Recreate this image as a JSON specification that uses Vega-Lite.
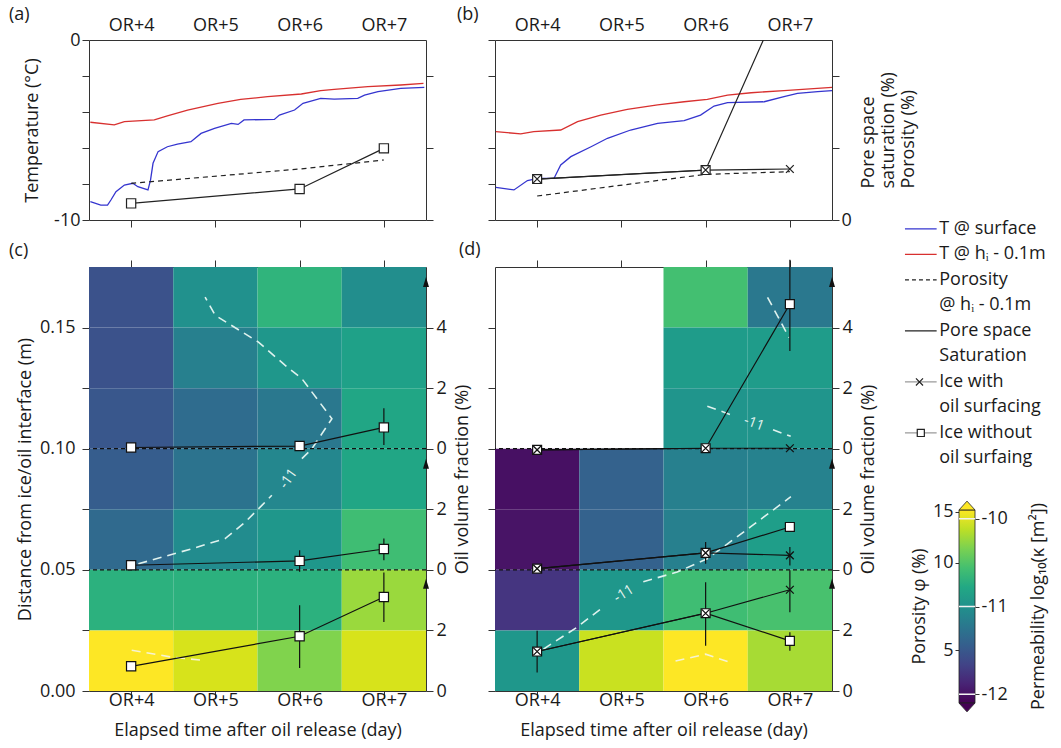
{
 "$schema": "https://vega.github.io/schema/vega-lite/v6.json",
 "padding": {"left": 8, "top": 5, "right": 2, "bottom": 2},
 "background": "white",
 "config": {
  "font": "Open Sans",
  "view": {"stroke": "#333", "strokeWidth": 1},
  "axis": {"grid": false, "domain": false, "labelFontSize": 18, "titleFontSize": 18, "titleFontWeight": "normal", "labelColor": "#1a1a1a", "titleColor": "#1a1a1a", "tickColor": "#333", "tickSize": 7, "labelFont": "Open Sans", "titleFont": "Open Sans"},
  "title": {"fontSize": 18, "fontWeight": "normal", "font": "Open Sans", "color": "#1a1a1a"}
 },
 "datasets": {
  "tempA": [
   {"day":3.516,"T":-8.98,"s":"surface"},{"day":3.64,"T":-9.17,"s":"surface"},{"day":3.72,"T":-9.17,"s":"surface"},{"day":3.76,"T":-8.89,"s":"surface"},{"day":3.82,"T":-8.43,"s":"surface"},{"day":3.92,"T":-8.06,"s":"surface"},{"day":4.02,"T":-7.96,"s":"surface"},{"day":4.08,"T":-8.15,"s":"surface"},{"day":4.2,"T":-8.33,"s":"surface"},{"day":4.23,"T":-7.78,"s":"surface"},{"day":4.26,"T":-6.85,"s":"surface"},{"day":4.32,"T":-6.2,"s":"surface"},{"day":4.43,"T":-5.93,"s":"surface"},{"day":4.55,"T":-5.78,"s":"surface"},{"day":4.71,"T":-5.65,"s":"surface"},{"day":4.83,"T":-5.19,"s":"surface"},{"day":4.99,"T":-4.91,"s":"surface"},{"day":5.19,"T":-4.63,"s":"surface"},{"day":5.27,"T":-4.69,"s":"surface"},{"day":5.34,"T":-4.44,"s":"surface"},{"day":5.7,"T":-4.41,"s":"surface"},{"day":5.76,"T":-4.17,"s":"surface"},{"day":5.94,"T":-3.89,"s":"surface"},{"day":6.04,"T":-3.52,"s":"surface"},{"day":6.25,"T":-3.24,"s":"surface"},{"day":6.41,"T":-3.28,"s":"surface"},{"day":6.69,"T":-3.24,"s":"surface"},{"day":6.77,"T":-3.06,"s":"surface"},{"day":6.93,"T":-2.87,"s":"surface"},{"day":7.2,"T":-2.69,"s":"surface"},{"day":7.48,"T":-2.63,"s":"surface"},
   {"day":3.516,"T":-4.57,"s":"hi"},{"day":3.8,"T":-4.72,"s":"hi"},{"day":3.92,"T":-4.54,"s":"hi"},{"day":4.275,"T":-4.44,"s":"hi"},{"day":4.43,"T":-4.22,"s":"hi"},{"day":4.67,"T":-3.89,"s":"hi"},{"day":5.03,"T":-3.52,"s":"hi"},{"day":5.3,"T":-3.3,"s":"hi"},{"day":5.62,"T":-3.15,"s":"hi"},{"day":6.02,"T":-3.0,"s":"hi"},{"day":6.25,"T":-2.81,"s":"hi"},{"day":6.41,"T":-2.74,"s":"hi"},{"day":6.81,"T":-2.59,"s":"hi"},{"day":7.2,"T":-2.5,"s":"hi"},{"day":7.47,"T":-2.41,"s":"hi"}
  ],
  "tempB": [
   {"day":3.51,"T":-8.19,"s":"surface"},{"day":3.725,"T":-8.33,"s":"surface"},{"day":3.885,"T":-7.81,"s":"surface"},{"day":4.01,"T":-7.69,"s":"surface"},{"day":4.2,"T":-7.69,"s":"surface"},{"day":4.28,"T":-6.94,"s":"surface"},{"day":4.4,"T":-6.48,"s":"surface"},{"day":4.64,"T":-5.93,"s":"surface"},{"day":4.835,"T":-5.46,"s":"surface"},{"day":5.11,"T":-5.0,"s":"surface"},{"day":5.43,"T":-4.63,"s":"surface"},{"day":5.745,"T":-4.48,"s":"surface"},{"day":5.94,"T":-4.17,"s":"surface"},{"day":6.1,"T":-3.67,"s":"surface"},{"day":6.26,"T":-3.48,"s":"surface"},{"day":6.695,"T":-3.43,"s":"surface"},{"day":6.93,"T":-3.15,"s":"surface"},{"day":7.09,"T":-2.96,"s":"surface"},{"day":7.33,"T":-2.87,"s":"surface"},{"day":7.5,"T":-2.81,"s":"surface"},
   {"day":3.51,"T":-5.09,"s":"hi"},{"day":3.805,"T":-5.22,"s":"hi"},{"day":3.96,"T":-5.09,"s":"hi"},{"day":4.28,"T":-5.0,"s":"hi"},{"day":4.48,"T":-4.54,"s":"hi"},{"day":4.755,"T":-4.17,"s":"hi"},{"day":5.07,"T":-3.85,"s":"hi"},{"day":5.43,"T":-3.61,"s":"hi"},{"day":5.745,"T":-3.43,"s":"hi"},{"day":6.02,"T":-3.3,"s":"hi"},{"day":6.26,"T":-3.06,"s":"hi"},{"day":6.54,"T":-2.93,"s":"hi"},{"day":6.93,"T":-2.81,"s":"hi"},{"day":7.5,"T":-2.63,"s":"hi"}
  ],
  "poroA": [{"day":4,"v":5.09},{"day":6,"v":7.08},{"day":7,"v":8.33}],
  "satA": [{"day":4,"v":2.31},{"day":6,"v":4.31},{"day":7,"v":9.95}],
  "poroB": [{"day":4,"v":3.33},{"day":6,"v":6.34},{"day":7,"v":6.71}],
  "satB": [{"day":4,"v":5.69,"s":"with"},{"day":6,"v":6.94,"s":"with"},{"day":7,"v":7.08,"s":"with"},{"day":4,"v":5.69,"s":"without"},{"day":6,"v":6.94,"s":"without"},{"day":7,"v":33.3,"s":"without"}],
  "cellsC": [
   {"x0":3.5,"x1":4.5,"ylo":0.15,"yhi":0.175,"logk":-11.55},{"x0":3.5,"x1":4.5,"ylo":0.125,"yhi":0.15,"logk":-11.55},{"x0":3.5,"x1":4.5,"ylo":0.1,"yhi":0.125,"logk":-11.506},{"x0":3.5,"x1":4.5,"ylo":0.075,"yhi":0.1,"logk":-11.462},{"x0":3.5,"x1":4.5,"ylo":0.05,"yhi":0.075,"logk":-11.352},{"x0":3.5,"x1":4.5,"ylo":0.025,"yhi":0.05,"logk":-10.692},{"x0":3.5,"x1":4.5,"ylo":0,"yhi":0.025,"logk":-9.9},
   {"x0":4.5,"x1":5.5,"ylo":0.15,"yhi":0.175,"logk":-11.0},{"x0":4.5,"x1":5.5,"ylo":0.125,"yhi":0.15,"logk":-11.154},{"x0":4.5,"x1":5.5,"ylo":0.1,"yhi":0.125,"logk":-11.33},{"x0":4.5,"x1":5.5,"ylo":0.075,"yhi":0.1,"logk":-11.264},{"x0":4.5,"x1":5.5,"ylo":0.05,"yhi":0.075,"logk":-11.044},{"x0":4.5,"x1":5.5,"ylo":0.025,"yhi":0.05,"logk":-10.692},{"x0":4.5,"x1":5.5,"ylo":0,"yhi":0.025,"logk":-10.032},
   {"x0":5.5,"x1":6.5,"ylo":0.15,"yhi":0.175,"logk":-10.67},{"x0":5.5,"x1":6.5,"ylo":0.125,"yhi":0.15,"logk":-10.934},{"x0":5.5,"x1":6.5,"ylo":0.1,"yhi":0.125,"logk":-11.22},{"x0":5.5,"x1":6.5,"ylo":0.075,"yhi":0.1,"logk":-11.088},{"x0":5.5,"x1":6.5,"ylo":0.05,"yhi":0.075,"logk":-10.934},{"x0":5.5,"x1":6.5,"ylo":0.025,"yhi":0.05,"logk":-10.692},{"x0":5.5,"x1":6.5,"ylo":0,"yhi":0.025,"logk":-10.318},
   {"x0":6.5,"x1":7.5,"ylo":0.15,"yhi":0.175,"logk":-11.022},{"x0":6.5,"x1":7.5,"ylo":0.125,"yhi":0.15,"logk":-10.846},{"x0":6.5,"x1":7.5,"ylo":0.1,"yhi":0.125,"logk":-10.802},{"x0":6.5,"x1":7.5,"ylo":0.075,"yhi":0.1,"logk":-10.802},{"x0":6.5,"x1":7.5,"ylo":0.05,"yhi":0.075,"logk":-10.582},{"x0":6.5,"x1":7.5,"ylo":0.025,"yhi":0.05,"logk":-10.23},{"x0":6.5,"x1":7.5,"ylo":0,"yhi":0.025,"logk":-10.032}
  ],
  "cellsD": [
   {"x0":3.5,"x1":4.5,"ylo":0.075,"yhi":0.1,"logk":-12.012},{"x0":3.5,"x1":4.5,"ylo":0.05,"yhi":0.075,"logk":-11.99},{"x0":3.5,"x1":4.5,"ylo":0.025,"yhi":0.05,"logk":-11.77},{"x0":3.5,"x1":4.5,"ylo":0,"yhi":0.025,"logk":-10.934},
   {"x0":4.5,"x1":5.5,"ylo":0.075,"yhi":0.1,"logk":-11.418},{"x0":4.5,"x1":5.5,"ylo":0.05,"yhi":0.075,"logk":-11.418},{"x0":4.5,"x1":5.5,"ylo":0.025,"yhi":0.05,"logk":-10.934},{"x0":4.5,"x1":5.5,"ylo":0,"yhi":0.025,"logk":-10.076},
   {"x0":5.5,"x1":6.5,"ylo":0.15,"yhi":0.175,"logk":-10.56},{"x0":5.5,"x1":6.5,"ylo":0.125,"yhi":0.15,"logk":-10.89},{"x0":5.5,"x1":6.5,"ylo":0.1,"yhi":0.125,"logk":-10.956},{"x0":5.5,"x1":6.5,"ylo":0.075,"yhi":0.1,"logk":-11.154},{"x0":5.5,"x1":6.5,"ylo":0.05,"yhi":0.075,"logk":-11.154},{"x0":5.5,"x1":6.5,"ylo":0.025,"yhi":0.05,"logk":-10.582},{"x0":5.5,"x1":6.5,"ylo":0,"yhi":0.025,"logk":-9.9},
   {"x0":6.5,"x1":7.5,"ylo":0.15,"yhi":0.175,"logk":-11.22},{"x0":6.5,"x1":7.5,"ylo":0.125,"yhi":0.15,"logk":-10.89},{"x0":6.5,"x1":7.5,"ylo":0.1,"yhi":0.125,"logk":-10.956},{"x0":6.5,"x1":7.5,"ylo":0.075,"yhi":0.1,"logk":-11.132},{"x0":6.5,"x1":7.5,"ylo":0.05,"yhi":0.075,"logk":-10.868},{"x0":6.5,"x1":7.5,"ylo":0.025,"yhi":0.05,"logk":-10.538},{"x0":6.5,"x1":7.5,"ylo":0,"yhi":0.025,"logk":-10.186}
  ],
  "pointsC": [
   {"grp":"t","day":4,"y":0.1005},{"grp":"t","day":6,"y":0.1011},{"grp":"t","day":7,"y":0.1088,"elo":0.1015,"ehi":0.1167},
   {"grp":"m","day":4,"y":0.0519},{"grp":"m","day":6,"y":0.0537,"elo":0.0492,"ehi":0.0581},{"grp":"m","day":7,"y":0.0586,"elo":0.054,"ehi":0.0629},
   {"grp":"b","day":4,"y":0.0102},{"grp":"b","day":6,"y":0.0226,"elo":0.0095,"ehi":0.0354},{"grp":"b","day":7,"y":0.0388,"elo":0.0285,"ehi":0.0489}
  ],
  "pointsD": [
   {"ln":"tw","s":"w","day":4,"y":0.0995},{"ln":"tw","s":"w","day":6,"y":0.1002},{"ln":"tw","s":"w","day":7,"y":0.1002},
   {"ln":"mw","s":"w","day":4,"y":0.0505},{"ln":"mw","s":"w","day":6,"y":0.057,"elo":0.0525,"ehi":0.0615},{"ln":"mw","s":"w","day":7,"y":0.056,"elo":0.0518,"ehi":0.0594},
   {"ln":"bw","s":"w","day":4,"y":0.0163,"elo":0.0076,"ehi":0.0249},{"ln":"bw","s":"w","day":6,"y":0.0321,"elo":0.0187,"ehi":0.0449},{"ln":"bw","s":"w","day":7,"y":0.0418,"elo":0.0325,"ehi":0.0498},
   {"ln":"to","s":"o","day":4,"y":0.0995},{"ln":"to","s":"o","day":6,"y":0.1002},{"ln":"to","s":"o","day":7,"y":0.1597,"elo":0.1403,"ehi":0.178},
   {"ln":"mo","s":"o","day":4,"y":0.0505},{"ln":"mo","s":"o","day":6,"y":0.057},{"ln":"mo","s":"o","day":7,"y":0.0677},
   {"ln":"bo","s":"o","day":4,"y":0.0163},{"ln":"bo","s":"o","day":6,"y":0.0321},{"ln":"bo","s":"o","day":7,"y":0.0207,"elo":0.0166,"ehi":0.0242}
  ],
  "contC": [
   {"c":"a","lv":"m11","o":1,"day":4.086,"y":0.0525},{"c":"a","lv":"m11","o":2,"day":4.72,"y":0.0587},{"c":"a","lv":"m11","o":3,"day":5.116,"y":0.0629},{"c":"a","lv":"m11","o":4,"day":5.353,"y":0.0697},{"c":"a","lv":"m11","o":5,"day":5.552,"y":0.0766},{"c":"a","lv":"m11","o":6,"day":5.67,"y":0.0808},
   {"c":"b","lv":"m11","o":1,"day":6.027,"y":0.0959},{"c":"b","lv":"m11","o":2,"day":6.146,"y":0.1},{"c":"b","lv":"m11","o":3,"day":6.383,"y":0.1124},{"c":"b","lv":"m11","o":4,"day":6.027,"y":0.1289},{"c":"b","lv":"m11","o":5,"day":5.829,"y":0.1344},{"c":"b","lv":"m11","o":6,"day":5.511,"y":0.144},{"c":"b","lv":"m11","o":7,"day":4.997,"y":0.1551},{"c":"b","lv":"m11","o":8,"day":4.878,"y":0.1626},
   {"c":"c","lv":"m10","o":1,"day":4.007,"y":0.0168},{"c":"c","lv":"m10","o":2,"day":4.48,"y":0.014},{"c":"c","lv":"m10","o":3,"day":4.84,"y":0.0127}
  ],
  "contD": [
   {"c":"a","lv":"m11","o":1,"day":6.735,"y":0.1625},{"c":"a","lv":"m11","o":2,"day":6.99,"y":0.1459},
   {"c":"b1","lv":"m11","o":1,"day":6.02,"y":0.1175},{"c":"b1","lv":"m11","o":2,"day":6.35,"y":0.1134},
   {"c":"b2","lv":"m11","o":1,"day":6.8,"y":0.1078},{"c":"b2","lv":"m11","o":2,"day":7.01,"y":0.1051},
   {"c":"c1","lv":"m11","o":1,"day":4.075,"y":0.0173},{"c":"c1","lv":"m11","o":2,"day":4.473,"y":0.0263},{"c":"c1","lv":"m11","o":3,"day":4.8,"y":0.0351},
   {"c":"c2","lv":"m11","o":1,"day":5.26,"y":0.0451},{"c":"c2","lv":"m11","o":2,"day":5.663,"y":0.0491},{"c":"c2","lv":"m11","o":3,"day":6.02,"y":0.0546},{"c":"c2","lv":"m11","o":4,"day":6.536,"y":0.0678},{"c":"c2","lv":"m11","o":5,"day":7.012,"y":0.0802},
   {"c":"d","lv":"m10","o":1,"day":5.643,"y":0.0124},{"c":"d","lv":"m10","o":2,"day":6.0,"y":0.0152},{"c":"d","lv":"m10","o":3,"day":6.298,"y":0.0117}
  ],
  "labC": [{"day":5.868,"y":0.0876,"t":"-11"}],
  "labD1": [{"day":6.575,"y":0.1104,"t":"-11"}],
  "labD2": [{"day":5.03,"y":0.0401,"t":"-11"}],
  "hlines": [{"y":0.1},{"y":0.05}],
  "arrows": [{"y":0.1688},{"y":0.0938},{"y":0.0443}],
  "legText": [
   {"line":1,"text":"T @ surface"},{"line":2,"text":"T @ hᵢ - 0.1m"},{"line":3,"text":"Porosity"},{"line":4,"text":"  @ hᵢ - 0.1m"},{"line":5,"text":"Pore space"},{"line":6,"text":"Saturation"},{"line":7,"text":"Ice with"},{"line":8,"text":"  oil surfacing"},{"line":9,"text":"Ice without"},{"line":10,"text":"  oil surfaing"}
  ],
  "legSym": [{"line":1,"k":"blue"},{"line":2,"k":"red"},{"line":3,"k":"dash"},{"line":5,"k":"solid"},{"line":7,"k":"cross"},{"line":9,"k":"square"}],
  "cbar": [{"lo":-12.1,"hi":-9.9}],
  "cbarLevels": [{"v":-10},{"v":-11},{"v":-12}],
  "cbarTop": [{"v":-9.849}],
  "cbarBot": [{"v":-12.151}],
  "phiTicks": [{"phi":5},{"phi":10},{"phi":15}]
 },
 "columns": 3,
 "spacing": {"row": 47, "column": 69},
 "bounds": "flush",
 "concat": [
    {
     "width": 337, "height": 180,
     "title": {"text": "(a)", "anchor": "start", "frame": "group", "dx": -80, "dy": 12},
     "layer": [
      {
       "data": {"name": "tempA"},
       "mark": {"type": "line", "strokeWidth": 1.3},
       "encoding": {
        "x": {"field": "day", "type": "quantitative", "scale": {"domain": [3.5, 7.5], "nice": false}, "axis": {"orient": "bottom", "values": [4,5,6,7], "labels": false, "title": null}},
        "y": {"field": "T", "type": "quantitative", "scale": {"domain": [-10, 0], "nice": false}, "axis": {"orient": "left", "values": [-10,-8,-6,-4,-2,0], "labelExpr": "datum.value == 0 || datum.value == -10 ? '' + datum.value : ''", "labelPadding": 2, "title": "Temperature (°C)", "titlePadding": 12}},
        "stroke": {"field": "s", "type": "nominal", "scale": {"domain": ["surface", "hi"], "range": ["#3535cf", "#d8302f"]}, "legend": null}
       }
      },
      {
       "layer": [
        {"data": {"name": "poroA"}, "mark": {"type": "line", "color": "#222", "strokeWidth": 1.2, "strokeDash": [5,4]},
         "encoding": {"x": {"field": "day", "type": "quantitative", "scale": {"domain": [3.5, 7.5], "nice": false}, "axis": {"orient": "top", "values": [4,5,6,7], "labelExpr": "'OR+' + datum.value", "ticks": false, "tickSize": 0, "labelPadding": 6, "title": null}},
          "y": {"field": "v", "type": "quantitative", "scale": {"domain": [0, 25], "nice": false}, "axis": {"orient": "right", "values": [0,5,10,15,20,25], "labels": false, "title": null}}}},
        {"data": {"name": "satA"}, "mark": {"type": "line", "color": "#222", "strokeWidth": 1.2},
         "encoding": {"x": {"field": "day", "type": "quantitative", "scale": {"domain": [3.5, 7.5], "nice": false}}, "y": {"field": "v", "type": "quantitative", "scale": {"domain": [0, 25], "nice": false}}}},
        {"data": {"name": "satA"}, "mark": {"type": "point", "shape": "square", "filled": true, "fill": "white", "stroke": "#222", "strokeWidth": 1.2, "size": 85, "opacity": 1},
         "encoding": {"x": {"field": "day", "type": "quantitative", "scale": {"domain": [3.5, 7.5], "nice": false}}, "y": {"field": "v", "type": "quantitative", "scale": {"domain": [0, 25], "nice": false}}}}
       ]
      }
     ],
     "resolve": {"scale": {"y": "independent"}, "axis": {"x": "independent", "y": "independent"}}
    },
    {
     "width": 337, "height": 180,
     "title": {"text": "(b)", "anchor": "start", "frame": "group", "dx": -38, "dy": 12},
     "layer": [
      {
       "data": {"name": "tempB"},
       "mark": {"type": "line", "strokeWidth": 1.3},
       "encoding": {
        "x": {"field": "day", "type": "quantitative", "scale": {"domain": [3.5, 7.5], "nice": false}, "axis": {"orient": "bottom", "values": [4,5,6,7], "labels": false, "title": null}},
        "y": {"field": "T", "type": "quantitative", "scale": {"domain": [-10, 0], "nice": false}, "axis": {"orient": "left", "values": [-10,-8,-6,-4,-2,0], "labels": false, "title": null}},
        "stroke": {"field": "s", "type": "nominal", "scale": {"domain": ["surface", "hi"], "range": ["#3535cf", "#d8302f"]}, "legend": null}
       }
      },
      {
       "layer": [
        {"data": {"name": "poroB"}, "mark": {"type": "line", "color": "#222", "strokeWidth": 1.2, "strokeDash": [5,4]},
         "encoding": {"x": {"field": "day", "type": "quantitative", "scale": {"domain": [3.5, 7.5], "nice": false}, "axis": {"orient": "top", "values": [4,5,6,7], "labelExpr": "'OR+' + datum.value", "ticks": false, "tickSize": 0, "labelPadding": 6, "title": null}},
          "y": {"field": "v", "type": "quantitative", "scale": {"domain": [0, 25], "nice": false}, "axis": {"orient": "right", "values": [0,5,10,15,20,25], "labelExpr": "datum.value == 0 || datum.value == 25 ? '' + datum.value : ''", "labelPadding": 2, "title": ["Pore space", "saturation (%)", "Porosity (%)"], "titleAngle": 270, "titleBaseline": "top", "titleAlign": "left", "titleX": 27, "titleY": 148, "titleLineHeight": 20}}}},
        {"data": {"name": "satB"}, "mark": {"type": "line", "color": "#222", "strokeWidth": 1.2, "clip": true},
         "encoding": {"x": {"field": "day", "type": "quantitative", "scale": {"domain": [3.5, 7.5], "nice": false}}, "y": {"field": "v", "type": "quantitative", "scale": {"domain": [0, 25], "nice": false}}, "detail": {"field": "s"}}},
        {"data": {"name": "satB"}, "transform": [{"filter": "datum.s == 'without'"}], "mark": {"type": "point", "shape": "square", "filled": true, "fill": "white", "stroke": "#222", "strokeWidth": 1.2, "size": 80, "opacity": 1, "clip": true},
         "encoding": {"x": {"field": "day", "type": "quantitative", "scale": {"domain": [3.5, 7.5], "nice": false}}, "y": {"field": "v", "type": "quantitative", "scale": {"domain": [0, 25], "nice": false}}}},
        {"data": {"name": "satB"}, "transform": [{"filter": "datum.s == 'with'"}], "mark": {"type": "point", "shape": "M-1,-1L1,1M-1,1L1,-1", "filled": false, "stroke": "#222", "strokeWidth": 1.3, "size": 60, "opacity": 1},
         "encoding": {"x": {"field": "day", "type": "quantitative", "scale": {"domain": [3.5, 7.5], "nice": false}}, "y": {"field": "v", "type": "quantitative", "scale": {"domain": [0, 25], "nice": false}}}}
       ]
      }
     ],
     "resolve": {"scale": {"y": "independent"}, "axis": {"x": "independent", "y": "independent"}}
    },
    {
     "width": 132, "height": 180,
     "view": {"stroke": null},
     "layer": [
      {"data": {"name": "legSym"}, "transform": [{"filter": "datum.k == 'blue'"}], "mark": {"type": "rule", "color": "#3535cf", "strokeWidth": 1.3},
       "encoding": {"x": {"datum": 0.03, "type": "quantitative", "scale": {"domain": [0, 1], "nice": false}, "axis": null}, "x2": {"datum": 0.27}, "y": {"field": "line", "type": "quantitative", "scale": {"domain": [-6.41, 0.649], "reverse": true, "nice": false, "zero": false}, "axis": null}}},
      {"data": {"name": "legSym"}, "transform": [{"filter": "datum.k == 'red'"}], "mark": {"type": "rule", "color": "#d8302f", "strokeWidth": 1.3},
       "encoding": {"x": {"datum": 0.03, "type": "quantitative", "scale": {"domain": [0, 1], "nice": false}, "axis": null}, "x2": {"datum": 0.27}, "y": {"field": "line", "type": "quantitative", "scale": {"domain": [-6.41, 0.649], "reverse": true, "nice": false, "zero": false}, "axis": null}}},
      {"data": {"name": "legSym"}, "transform": [{"filter": "datum.k == 'dash'"}], "mark": {"type": "rule", "color": "#222", "strokeWidth": 1.2, "strokeDash": [4,3]},
       "encoding": {"x": {"datum": 0.03, "type": "quantitative", "scale": {"domain": [0, 1], "nice": false}, "axis": null}, "x2": {"datum": 0.27}, "y": {"field": "line", "type": "quantitative", "scale": {"domain": [-6.41, 0.649], "reverse": true, "nice": false, "zero": false}, "axis": null}}},
      {"data": {"name": "legSym"}, "transform": [{"filter": "datum.k == 'solid'"}], "mark": {"type": "rule", "color": "#222", "strokeWidth": 1.2},
       "encoding": {"x": {"datum": 0.03, "type": "quantitative", "scale": {"domain": [0, 1], "nice": false}, "axis": null}, "x2": {"datum": 0.27}, "y": {"field": "line", "type": "quantitative", "scale": {"domain": [-6.41, 0.649], "reverse": true, "nice": false, "zero": false}, "axis": null}}},
      {"data": {"name": "legSym"}, "transform": [{"filter": "datum.k == 'cross' || datum.k == 'square'"}], "mark": {"type": "rule", "color": "#9a9a9a", "strokeWidth": 1.2},
       "encoding": {"x": {"datum": 0.03, "type": "quantitative", "scale": {"domain": [0, 1], "nice": false}, "axis": null}, "x2": {"datum": 0.27}, "y": {"field": "line", "type": "quantitative", "scale": {"domain": [-6.41, 0.649], "reverse": true, "nice": false, "zero": false}, "axis": null}}},
      {"data": {"name": "legSym"}, "transform": [{"filter": "datum.k == 'cross'"}], "mark": {"type": "point", "shape": "M-1,-1L1,1M-1,1L1,-1", "filled": false, "stroke": "#222", "strokeWidth": 1.2, "size": 50, "opacity": 1},
       "encoding": {"x": {"datum": 0.14, "type": "quantitative", "scale": {"domain": [0, 1], "nice": false}, "axis": null}, "y": {"field": "line", "type": "quantitative", "scale": {"domain": [-6.41, 0.649], "reverse": true, "nice": false, "zero": false}, "axis": null}}},
      {"data": {"name": "legSym"}, "transform": [{"filter": "datum.k == 'square'"}], "mark": {"type": "point", "shape": "square", "filled": true, "fill": "white", "stroke": "#222", "strokeWidth": 1.2, "size": 50, "opacity": 1},
       "encoding": {"x": {"datum": 0.15, "type": "quantitative", "scale": {"domain": [0, 1], "nice": false}, "axis": null}, "y": {"field": "line", "type": "quantitative", "scale": {"domain": [-6.41, 0.649], "reverse": true, "nice": false, "zero": false}, "axis": null}}},
      {"data": {"name": "legText"}, "mark": {"type": "text", "align": "left", "baseline": "middle", "fontSize": 18, "color": "#1a1a1a"},
       "encoding": {"x": {"datum": 0.29, "type": "quantitative", "scale": {"domain": [0, 1], "nice": false}, "axis": null}, "y": {"field": "line", "type": "quantitative", "scale": {"domain": [-6.41, 0.649], "reverse": true, "nice": false, "zero": false}, "axis": null}, "text": {"field": "text"}}}
     ]
    },
    {
     "width": 337, "height": 424,
     "title": {"text": "(c)", "anchor": "start", "frame": "group", "dx": -80, "dy": 4},
     "layer": [
      {"data": {"name": "cellsC"}, "mark": {"type": "rect"},
       "encoding": {
        "x": {"field": "x0", "type": "quantitative", "scale": {"domain": [3.5, 7.5], "nice": false}, "axis": {"orient": "bottom", "values": [4,5,6,7], "labelExpr": "'OR+' + datum.value", "labelBaseline": "alphabetic", "labelPadding": 7, "title": "Elapsed time after oil release (day)", "titlePadding": 12}},
        "x2": {"field": "x1"},
        "y": {"field": "ylo", "type": "quantitative", "scale": {"domain": [0, 0.175], "nice": false}, "axis": {"orient": "left", "values": [0,0.025,0.05,0.075,0.1,0.125,0.15], "labelExpr": "round(datum.value*1000) % 50 == 0 ? format(datum.value, '.2f') : ''", "labelPadding": 7, "title": "Distance from ice/oil interface (m)", "titlePadding": 5}},
        "y2": {"field": "yhi"},
        "color": {"field": "logk", "type": "quantitative", "scale": {"scheme": "viridis", "domain": [-12.1, -9.9]}, "legend": null}
       }},
      {"layer": [
        {"data": {"name": "contC"}, "transform": [{"filter": "datum.lv == 'm11'"}], "mark": {"type": "line", "color": "#dff2ee", "strokeWidth": 1.6, "strokeDash": [9,6]},
         "encoding": {"x": {"field": "day", "type": "quantitative", "scale": {"domain": [3.5, 7.5], "nice": false}, "axis": {"orient": "top", "values": [4,5,6,7], "labels": false, "title": null}},
          "y": {"field": "y", "type": "quantitative", "scale": {"domain": [0, 0.175], "nice": false}, "axis": {"orient": "right", "values": [0,0.025,0.05,0.075,0.1,0.125,0.15], "labelExpr": "datum.value < 0.01 ? '0' : datum.value < 0.04 ? '2' : datum.value < 0.06 ? '0' : datum.value < 0.09 ? '2' : datum.value < 0.11 ? '0' : datum.value < 0.14 ? '2' : '4'", "labelPadding": 3, "title": "Oil volume fraction (%)", "titleAngle": 270, "titleBaseline": "top", "titlePadding": 7}},
          "detail": {"field": "c"}, "order": {"field": "o"}}},
        {"data": {"name": "contC"}, "transform": [{"filter": "datum.lv == 'm10'"}], "mark": {"type": "line", "color": "#f6f3d2", "strokeWidth": 1.6, "strokeDash": [9,6]},
         "encoding": {"x": {"field": "day", "type": "quantitative", "scale": {"domain": [3.5, 7.5], "nice": false}}, "y": {"field": "y", "type": "quantitative", "scale": {"domain": [0, 0.175], "nice": false}}, "detail": {"field": "c"}, "order": {"field": "o"}}},
        {"data": {"name": "labC"}, "mark": {"type": "text", "angle": 305, "color": "#e6f4f0", "fontSize": 14},
         "encoding": {"x": {"field": "day", "type": "quantitative", "scale": {"domain": [3.5, 7.5], "nice": false}}, "y": {"field": "y", "type": "quantitative", "scale": {"domain": [0, 0.175], "nice": false}}, "text": {"field": "t"}}},
        {"data": {"name": "hlines"}, "mark": {"type": "rule", "color": "#111", "strokeWidth": 1.3, "strokeDash": [4,3]},
         "encoding": {"y": {"field": "y", "type": "quantitative", "scale": {"domain": [0, 0.175], "nice": false}}}},
        {"data": {"name": "pointsC"}, "transform": [{"filter": "isValid(datum.elo)"}], "mark": {"type": "rule", "color": "#111", "strokeWidth": 1.2},
         "encoding": {"x": {"field": "day", "type": "quantitative", "scale": {"domain": [3.5, 7.5], "nice": false}}, "y": {"field": "elo", "type": "quantitative", "scale": {"domain": [0, 0.175], "nice": false}}, "y2": {"field": "ehi"}}},
        {"data": {"name": "pointsC"}, "mark": {"type": "line", "color": "#111", "strokeWidth": 1.2},
         "encoding": {"x": {"field": "day", "type": "quantitative", "scale": {"domain": [3.5, 7.5], "nice": false}}, "y": {"field": "y", "type": "quantitative", "scale": {"domain": [0, 0.175], "nice": false}}, "detail": {"field": "grp"}}},
        {"data": {"name": "pointsC"}, "mark": {"type": "point", "shape": "square", "filled": true, "fill": "white", "stroke": "#111", "strokeWidth": 1.2, "size": 85, "opacity": 1},
         "encoding": {"x": {"field": "day", "type": "quantitative", "scale": {"domain": [3.5, 7.5], "nice": false}}, "y": {"field": "y", "type": "quantitative", "scale": {"domain": [0, 0.175], "nice": false}}}},
        {"data": {"name": "arrows"}, "mark": {"type": "point", "shape": "M0,-1L0.6,1L-0.6,1Z", "filled": true, "color": "#111", "size": 100, "opacity": 1},
         "encoding": {"x": {"datum": 7.5, "type": "quantitative", "scale": {"domain": [3.5, 7.5], "nice": false}}, "y": {"field": "y", "type": "quantitative", "scale": {"domain": [0, 0.175], "nice": false}}}}
      ]}
     ],
     "resolve": {"axis": {"x": "independent", "y": "independent"}}
    },
    {
     "width": 337, "height": 424,
     "title": {"text": "(d)", "anchor": "start", "frame": "group", "dx": -36, "dy": 4},
     "layer": [
      {"data": {"name": "cellsD"}, "mark": {"type": "rect"},
       "encoding": {
        "x": {"field": "x0", "type": "quantitative", "scale": {"domain": [3.5, 7.5], "nice": false}, "axis": {"orient": "bottom", "values": [4,5,6,7], "labelExpr": "'OR+' + datum.value", "labelBaseline": "alphabetic", "labelPadding": 7, "title": "Elapsed time after oil release (day)", "titlePadding": 12}},
        "x2": {"field": "x1"},
        "y": {"field": "ylo", "type": "quantitative", "scale": {"domain": [0, 0.175], "nice": false}, "axis": {"orient": "left", "values": [0,0.025,0.05,0.075,0.1,0.125,0.15], "labels": false, "title": null}},
        "y2": {"field": "yhi"},
        "color": {"field": "logk", "type": "quantitative", "scale": {"scheme": "viridis", "domain": [-12.1, -9.9]}, "legend": null}
       }},
      {"layer": [
        {"data": {"name": "contD"}, "transform": [{"filter": "datum.lv == 'm11'"}], "mark": {"type": "line", "color": "#dff2ee", "strokeWidth": 1.6, "strokeDash": [9,6]},
         "encoding": {"x": {"field": "day", "type": "quantitative", "scale": {"domain": [3.5, 7.5], "nice": false}, "axis": {"orient": "top", "values": [4,5,6,7], "labels": false, "title": null}},
          "y": {"field": "y", "type": "quantitative", "scale": {"domain": [0, 0.175], "nice": false}, "axis": {"orient": "right", "values": [0,0.025,0.05,0.075,0.1,0.125,0.15], "labelExpr": "datum.value < 0.01 ? '0' : datum.value < 0.04 ? '2' : datum.value < 0.06 ? '0' : datum.value < 0.09 ? '2' : datum.value < 0.11 ? '0' : datum.value < 0.14 ? '2' : '4'", "labelPadding": 3, "title": "Oil volume fraction (%)", "titleAngle": 270, "titleBaseline": "top", "titlePadding": 7}},
          "detail": {"field": "c"}, "order": {"field": "o"}}},
        {"data": {"name": "contD"}, "transform": [{"filter": "datum.lv == 'm10'"}], "mark": {"type": "line", "color": "#f6f3d2", "strokeWidth": 1.6, "strokeDash": [9,6]},
         "encoding": {"x": {"field": "day", "type": "quantitative", "scale": {"domain": [3.5, 7.5], "nice": false}}, "y": {"field": "y", "type": "quantitative", "scale": {"domain": [0, 0.175], "nice": false}}, "detail": {"field": "c"}, "order": {"field": "o"}}},
        {"data": {"name": "labD1"}, "mark": {"type": "text", "angle": 20, "color": "#e6f4f0", "fontSize": 14},
         "encoding": {"x": {"field": "day", "type": "quantitative", "scale": {"domain": [3.5, 7.5], "nice": false}}, "y": {"field": "y", "type": "quantitative", "scale": {"domain": [0, 0.175], "nice": false}}, "text": {"field": "t"}}},
        {"data": {"name": "labD2"}, "mark": {"type": "text", "angle": 328, "color": "#e6f4f0", "fontSize": 14},
         "encoding": {"x": {"field": "day", "type": "quantitative", "scale": {"domain": [3.5, 7.5], "nice": false}}, "y": {"field": "y", "type": "quantitative", "scale": {"domain": [0, 0.175], "nice": false}}, "text": {"field": "t"}}},
        {"data": {"name": "hlines"}, "mark": {"type": "rule", "color": "#111", "strokeWidth": 1.3, "strokeDash": [4,3]},
         "encoding": {"y": {"field": "y", "type": "quantitative", "scale": {"domain": [0, 0.175], "nice": false}}}},
        {"data": {"name": "pointsD"}, "transform": [{"filter": "isValid(datum.elo)"}], "mark": {"type": "rule", "color": "#111", "strokeWidth": 1.2},
         "encoding": {"x": {"field": "day", "type": "quantitative", "scale": {"domain": [3.5, 7.5], "nice": false}}, "y": {"field": "elo", "type": "quantitative", "scale": {"domain": [0, 0.175], "nice": false}}, "y2": {"field": "ehi"}}},
        {"data": {"name": "pointsD"}, "mark": {"type": "line", "color": "#111", "strokeWidth": 1.2},
         "encoding": {"x": {"field": "day", "type": "quantitative", "scale": {"domain": [3.5, 7.5], "nice": false}}, "y": {"field": "y", "type": "quantitative", "scale": {"domain": [0, 0.175], "nice": false}}, "detail": {"field": "ln"}}},
        {"data": {"name": "pointsD"}, "transform": [{"filter": "datum.s == 'o'"}], "mark": {"type": "point", "shape": "square", "filled": true, "fill": "white", "stroke": "#111", "strokeWidth": 1.2, "size": 80, "opacity": 1},
         "encoding": {"x": {"field": "day", "type": "quantitative", "scale": {"domain": [3.5, 7.5], "nice": false}}, "y": {"field": "y", "type": "quantitative", "scale": {"domain": [0, 0.175], "nice": false}}}},
        {"data": {"name": "pointsD"}, "transform": [{"filter": "datum.s == 'w'"}], "mark": {"type": "point", "shape": "M-1,-1L1,1M-1,1L1,-1", "filled": false, "stroke": "#111", "strokeWidth": 1.3, "size": 60, "opacity": 1},
         "encoding": {"x": {"field": "day", "type": "quantitative", "scale": {"domain": [3.5, 7.5], "nice": false}}, "y": {"field": "y", "type": "quantitative", "scale": {"domain": [0, 0.175], "nice": false}}}},
        {"data": {"name": "arrows"}, "mark": {"type": "point", "shape": "M0,-1L0.6,1L-0.6,1Z", "filled": true, "color": "#111", "size": 100, "opacity": 1},
         "encoding": {"x": {"datum": 7.5, "type": "quantitative", "scale": {"domain": [3.5, 7.5], "nice": false}}, "y": {"field": "y", "type": "quantitative", "scale": {"domain": [0, 0.175], "nice": false}}}}
      ]}
     ],
     "resolve": {"axis": {"x": "independent", "y": "independent"}}
    },
    {
     "width": 74, "height": 436,
     "view": {"stroke": null},
     "layer": [
      {"data": {"name": "phiTicks"}, "mark": {"type": "point", "opacity": 0},
       "encoding": {"x": {"datum": 0.5, "type": "quantitative", "scale": {"domain": [-3.625, 1], "nice": false, "zero": false}, "axis": null},
        "y": {"field": "phi", "type": "quantitative", "scale": {"type": "log", "domain": [3.29, 104.9], "nice": false}, "axis": {"orient": "left", "offset": -58, "values": [5, 10, 15], "labelExpr": "'' + datum.value", "tickSize": 4, "labelPadding": 2, "title": "Porosity  φ (%)", "titlePadding": 4, "titleY": 339}}}},
      {"layer": [
        {"data": {"name": "cbar"}, "mark": {"type": "rect", "stroke": "#222", "strokeWidth": 0.8, "fill": {"x1": 0, "y1": 1, "x2": 0, "y2": 0, "gradient": "linear", "stops": [{"offset": 0, "color": "#440154"}, {"offset": 0.1, "color": "#482475"}, {"offset": 0.2, "color": "#414487"}, {"offset": 0.3, "color": "#355f8d"}, {"offset": 0.4, "color": "#2a788e"}, {"offset": 0.5, "color": "#21918c"}, {"offset": 0.6, "color": "#22a884"}, {"offset": 0.7, "color": "#44bf70"}, {"offset": 0.8, "color": "#7ad151"}, {"offset": 0.9, "color": "#bddf26"}, {"offset": 1, "color": "#fde725"}]}},
         "encoding": {"x": {"datum": 0, "type": "quantitative", "scale": {"domain": [-3.625, 1], "nice": false, "zero": false}, "axis": null}, "x2": {"datum": 1},
          "y": {"field": "lo", "type": "quantitative", "scale": {"domain": [-12.1, -7.13], "nice": false, "zero": false}, "axis": {"orient": "right", "values": [-10, -11, -12], "labelExpr": "'-' + (-datum.value)", "tickSize": 4, "labelPadding": 2, "title": "Permeability log₁₀(κ [m²])", "titleAngle": 270, "titleBaseline": "top", "titlePadding": 22, "titleY": 339}},
          "y2": {"field": "hi"}}},
        {"data": {"name": "cbarLevels"}, "mark": {"type": "rule", "color": "#f2f2f2", "strokeWidth": 1.5},
         "encoding": {"x": {"datum": 0, "type": "quantitative", "scale": {"domain": [-3.625, 1], "nice": false, "zero": false}}, "x2": {"datum": 1}, "y": {"field": "v", "type": "quantitative", "scale": {"domain": [-12.1, -7.13], "nice": false, "zero": false}}}},
        {"data": {"name": "cbarTop"}, "mark": {"type": "point", "shape": "M-1,0.55L0,-0.55L1,0.55Z", "filled": true, "fill": "#fde725", "stroke": "#222", "strokeWidth": 0.8, "size": 256, "opacity": 1},
         "encoding": {"x": {"datum": 0.5, "type": "quantitative", "scale": {"domain": [-3.625, 1], "nice": false, "zero": false}}, "y": {"field": "v", "type": "quantitative", "scale": {"domain": [-12.1, -7.13], "nice": false, "zero": false}}}},
        {"data": {"name": "cbarBot"}, "mark": {"type": "point", "shape": "M-1,-0.55L0,0.55L1,-0.55Z", "filled": true, "fill": "#440154", "stroke": "#222", "strokeWidth": 0.8, "size": 256, "opacity": 1},
         "encoding": {"x": {"datum": 0.5, "type": "quantitative", "scale": {"domain": [-3.625, 1], "nice": false, "zero": false}}, "y": {"field": "v", "type": "quantitative", "scale": {"domain": [-12.1, -7.13], "nice": false, "zero": false}}}}
      ]}
     ],
     "resolve": {"scale": {"y": "independent"}, "axis": {"y": "independent"}}
    }
 ]
}
